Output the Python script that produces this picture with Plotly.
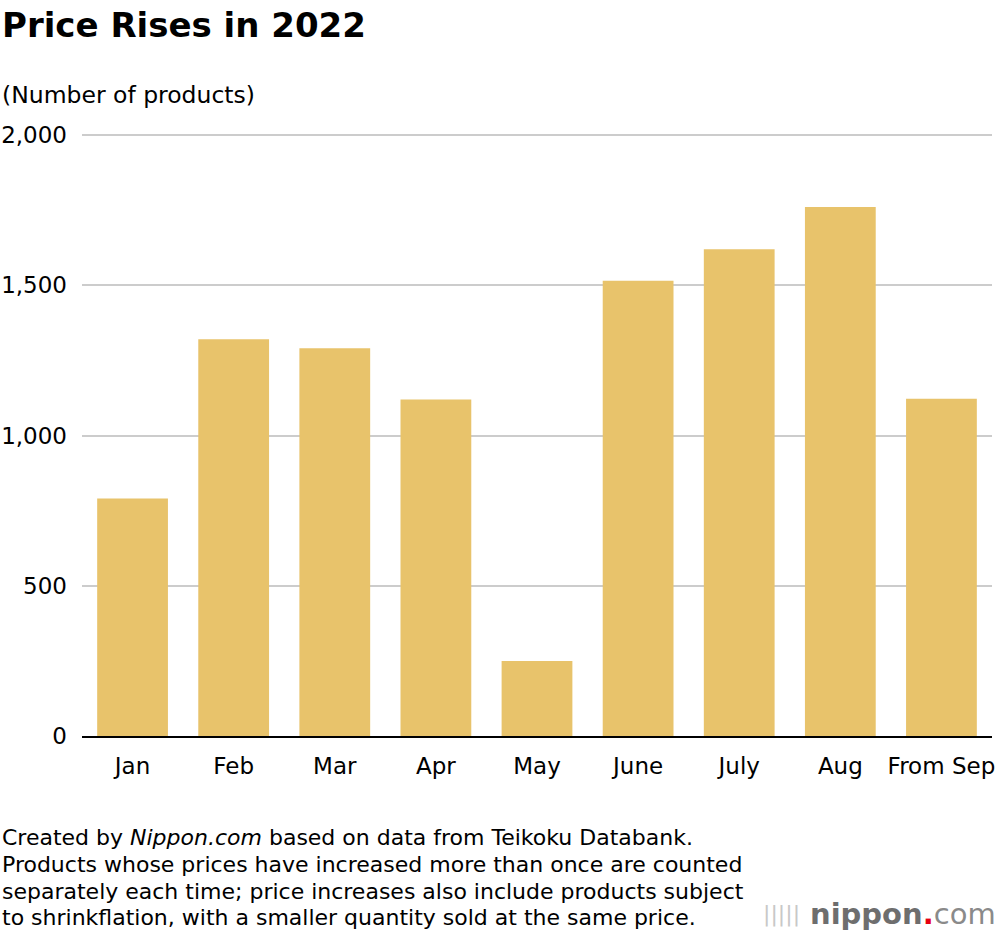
import plotly.graph_objects as go

categories = ["Jan", "Feb", "Mar", "Apr", "May", "June", "July", "Aug", "From Sep"]
values = [790, 1320, 1290, 1120, 250, 1515, 1620, 1760, 1122]
y_ticks = [0, 500, 1000, 1500, 2000]
y_tick_labels = ["0", "500", "1,000", "1,500", "2,000"]

W, H = 1000, 938
L, R, T, B = 82, 8, 132, 202
PH = H - T - B

def py(pix):
    return (H - B - pix) / PH

def px(pix):
    return (pix - L) / (W - L - R)

FONT = "DejaVu Sans, Liberation Sans, Arial, sans-serif"

fig = go.Figure(go.Bar(
    x=categories, y=values,
    marker=dict(color="#E8C36B", line=dict(width=0)),
    hoverinfo="x+y",
))

fig.update_layout(
    width=W, height=H,
    margin=dict(l=L, r=R, t=T, b=B, autoexpand=False),
    paper_bgcolor="white", plot_bgcolor="white",
    bargap=0.3,
    showlegend=False,
    font=dict(family=FONT, color="#000000", size=23),
)
fig.update_xaxes(
    automargin=False,
    showgrid=False, showline=True, linecolor="#000000", linewidth=2,
    ticks="", tickfont=dict(size=23, color="#000"), ticklabelstandoff=8,
)
fig.update_yaxes(
    automargin=False,
    range=[0, 2010], tickvals=y_ticks, ticktext=y_tick_labels,
    showgrid=True, gridcolor="#cccccc", gridwidth=1.5,
    zeroline=False, showline=False, ticks="",
    tickfont=dict(size=23, color="#000"), ticklabelstandoff=14,
)

ann = []
ann.append(dict(text="<b>Price Rises in 2022</b>", x=px(0), y=py(25), xref="paper", yref="paper",
                xanchor="left", yanchor="middle", showarrow=False, font=dict(size=34, family=FONT)))
ann.append(dict(text="(Number of products)", x=px(0), y=py(95), xref="paper", yref="paper",
                xanchor="left", yanchor="middle", showarrow=False, font=dict(size=23.5, family=FONT)))
foot = [
    "Created by <i>Nippon.com</i> based on data from Teikoku Databank.",
    "Products whose prices have increased more than once are counted",
    "separately each time; price increases also include products subject",
    "to shrinkflation, with a smaller quantity sold at the same price.",
]
for i, line in enumerate(foot):
    ann.append(dict(text=line, x=px(0), y=py(837 + 27 * i), xref="paper", yref="paper",
                    xanchor="left", yanchor="middle", showarrow=False,
                    font=dict(size=22, family=FONT)))
ann.append(dict(text="<b>nippon</b><span style='color:#e60012'><b>.</b></span><span style='color:#8a8a8a'>com</span>",
                x=px(998), y=py(914), xref="paper", yref="paper",
                xanchor="right", yanchor="middle", showarrow=False,
                font=dict(size=29, family=FONT, color="#6e6e6e")))
ann.append(dict(text="|||||", x=px(802), y=py(914), xref="paper", yref="paper",
                xanchor="right", yanchor="middle", showarrow=False,
                font=dict(size=22, family=FONT, color="#c8c8c8")))
fig.update_layout(annotations=ann)

fig.write_html("out.html", config={"displayModeBar": False},
               post_script="document.body.style.margin='0px';")
